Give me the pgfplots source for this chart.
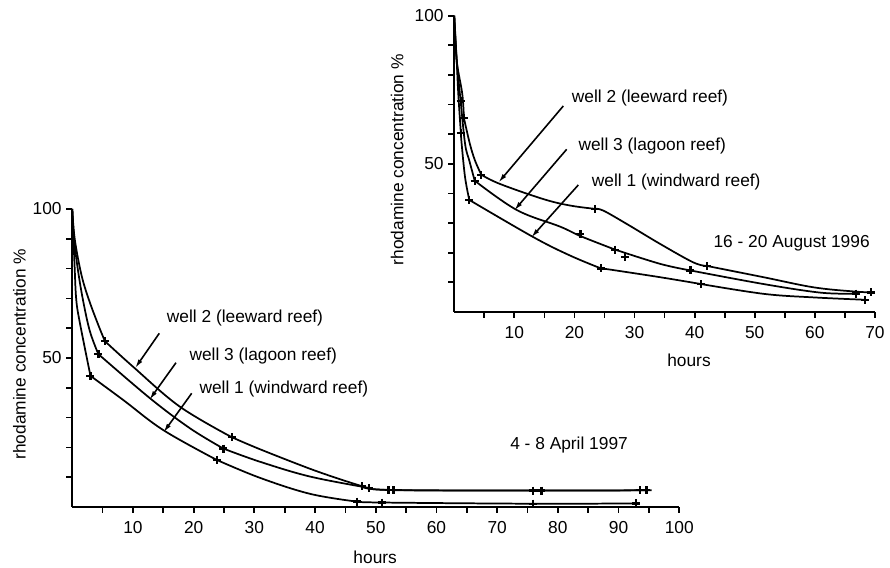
\documentclass[border=0pt]{standalone}
\usepackage{fontspec}
\setmainfont{Liberation Sans}
\usepackage{pgfplots}
\pgfplotsset{compat=1.18}
\usetikzlibrary{arrows.meta}

\newcommand{\lblfont}{\fontsize{13}{15}\selectfont}

\pgfplotsset{
  reefaxis/.style={
    scale only axis,
    axis lines*=left,
    axis line style={line width=1.6pt},
    tick align=outside,
    major tick length=4.5pt, minor tick length=4.5pt,
    tick style={line width=1.3pt, black},
    ymin=0, ymax=100,
    ytick={50,100}, minor ytick={10,20,30,40,60,70,80,90},
    tick label style={font=\lblfont},
    xticklabel style={yshift=-3pt},
    label style={font=\lblfont},
    /pgf/number format/assume math mode=true,
    ylabel={rhodamine concentration \%},
    xlabel={hours},
    clip=false,
  },
  well/.style={line width=1.3pt, smooth, tension=0.6, no marks},
  pts/.style={only marks, mark=+, mark size=3pt, mark options={line width=1.7pt}},
}

\begin{document}
\begin{tikzpicture}
\begin{scope}[x=0.75pt, y=-0.75pt, shift={(0pt,425.25pt)}]
  \useasboundingbox (0,0) rectangle (890,567);
\end{scope}

% 4 - 8 April 1997
\begin{axis}[reefaxis,
  at={(54.2pt,45pt)}, anchor=south west,
  width=455.25pt, height=223.5pt,
  xmin=0, xmax=100,
  xtick={10,20,...,100}, minor xtick={5,15,...,95},
  ylabel style={at={(axis description cs:-0.087,0.513)}, anchor=center},
  xlabel style={at={(axis description cs:0.499,-0.168)}, anchor=center},
]
% well 2 (leeward reef)
\addplot[well] coordinates {(0,100) (0.4,90) (1.5,78) (2.75,69.5) (4.4,60.5) (5.4,55.6)};
\addplot[well] coordinates {(5.4,55.6) (10,47.1) (17.7,33.7) (26.3,23.4)};
\addplot[well] coordinates {(26.3,23.4) (30.9,19.4) (39.2,12.8) (44.6,9.0) (47.7,7.0)};
\addplot[well] coordinates {(47.7,7.0) (52.1,5.7) (75.9,5.5) (93.5,5.6) (95,5.6)};
\addplot[pts] coordinates {(5.4,55.6) (26.3,23.4) (47.7,7.0) (52.1,5.7) (75.9,5.5) (93.5,5.7)};
% well 3 (lagoon reef)
\addplot[well] coordinates {(0,100) (0.3,90) (0.9,80) (1.76,69.5) (2.9,59) (4.3,51.3)};
\addplot[well] coordinates {(4.3,51.3) (12.8,36.5) (19.4,26.4) (24.9,19.6)};
\addplot[well] coordinates {(24.9,19.6) (30.9,15.2) (39.2,10.2) (48.9,6.4)};
\addplot[well] coordinates {(48.9,6.4) (52.9,5.7) (77.3,5.5) (94.6,5.6)};
\addplot[pts] coordinates {(4.3,51.3) (24.9,19.6) (48.9,6.4) (52.9,5.7) (77.3,5.5) (94.6,5.7)};
% well 1 (windward reef)
\addplot[well] coordinates {(0,100) (0.2,90) (0.4,80) (0.66,69.5) (1.27,61.6) (3.0,44.0)};
\addplot[well] coordinates {(3.0,44.0) (8.4,35.9) (15.0,25.8) (23.8,15.8)};
\addplot[well] coordinates {(23.8,15.8) (30.9,9.8) (39.2,4.4) (46.9,1.8)};
\addplot[well] coordinates {(46.9,1.8) (51.0,1.5) (75.9,1.1) (92.9,1.2)};
\addplot[pts] coordinates {(3.0,44.0) (23.8,15.8) (46.9,1.8) (51.0,1.5) (75.9,1.1) (92.9,1.2)};
\end{axis}

% 16 - 20 August 1996
\begin{axis}[reefaxis,
  at={(340.7pt,191.3pt)}, anchor=south west,
  width=315.5pt, height=222.2pt,
  xmin=0, xmax=70,
  xtick={10,20,...,70}, minor xtick={5,15,...,65},
  ylabel style={at={(axis description cs:-0.1355,0.514)}, anchor=center},
  xlabel style={at={(axis description cs:0.558,-0.162)}, anchor=center},
]
% well 2 (leeward reef)
\addplot[well] coordinates {(0,100) (0.4,85) (1.33,73.6) (1.6,65.5)};
\addplot[well] coordinates {(1.6,65.5) (2.6,56.7) (3.45,51.1) (4.5,46.3)};
\addplot[well] coordinates {(4.5,46.3) (7.6,43.2) (14.8,38.1) (19.3,35.9) (23.4,34.8)};
\addplot[well] coordinates {(23.4,34.8) (24.8,34.2) (28.7,29.7) (34.3,22.9) (39.8,16.7) (42.1,15.5)};
\addplot[well] coordinates {(42.1,15.5) (51.5,11.7) (59.8,8.3) (66.5,6.9) (69.4,6.6)};
\addplot[pts] coordinates {(1.6,65.5) (4.5,46.3) (23.4,34.8) (42.1,15.5) (69.4,6.6)};
% well 3 (lagoon reef)
\addplot[well] coordinates {(0,100) (0.4,85) (1.07,71.1)};
\addplot[well] coordinates {(1.07,71.1) (1.8,56.7) (2.5,51.1) (3.4,44.3)};
\addplot[well] coordinates {(3.4,44.3) (10.4,34.4) (17.6,28.8) (21.0,25.6) (26.8,21.0)};
\addplot[well] coordinates {(26.8,21.0) (34.3,16.2) (39.3,14.0)};
\addplot[well] coordinates {(39.3,14.0) (51.5,9.4) (61,6.5) (66.8,6.2)};
\addplot[pts] coordinates {(1.07,71.1) (3.4,44.3) (21.0,26.3) (26.8,21.0) (28.4,18.6) (39.3,14.0) (66.8,6.2)};
% well 1 (windward reef)
\addplot[well] coordinates {(0,100) (0.4,85) (0.67,73.6) (1.1,60.3)};
\addplot[well] coordinates {(1.1,60.3) (1.23,56.7) (1.8,45.4) (2.5,37.8)};
\addplot[well] coordinates {(2.5,37.8) (13.2,25.2) (19.3,19.0) (24.4,14.7)};
\addplot[well] coordinates {(24.4,14.7) (25.9,14.3) (34.3,11.7) (41.1,9.4)};
\addplot[well] coordinates {(41.1,9.4) (51.5,6.1) (59.8,4.9) (68.4,4.1)};
\addplot[pts] coordinates {(1.1,60.3) (2.5,37.8) (24.4,14.7) (41.1,9.4) (68.4,4.1)};
\end{axis}

% annotations (image pixel coordinates)
\begin{scope}[x=0.75pt, y=-0.75pt, shift={(0pt,425.25pt)},
  every node/.style={font=\lblfont, inner sep=0pt, anchor=west},
  arr/.style={line width=1.2pt, -{Latex[length=7pt, width=3.5pt]}}]
  \node at (166.7,318.3) {well 2 (leeward reef)};
  \node at (189.3,355.7) {well 3 (lagoon reef)};
  \node at (199.3,389.3) {well 1 (windward reef)};
  \node at (510,445) {4 - 8 April 1997};
  \draw[arr] (159.3,333.3) -- (135,368.3);
  \draw[arr] (176,362.7) -- (149.3,400);
  \draw[arr] (191.7,393.3) -- (163.3,432.7);

  \node at (571.7,97.7) {well 2 (leeward reef)};
  \node at (578.3,145.7) {well 3 (lagoon reef)};
  \node at (591.7,182.3) {well 1 (windward reef)};
  \node at (713.3,243.3) {16 - 20 August 1996};
  \draw[arr] (563.3,106) -- (498.3,182.7);
  \draw[arr] (566.7,149.3) -- (514,210.7);
  \draw[arr] (578.3,185) -- (531,237.7);
\end{scope}
\end{tikzpicture}
\end{document}
